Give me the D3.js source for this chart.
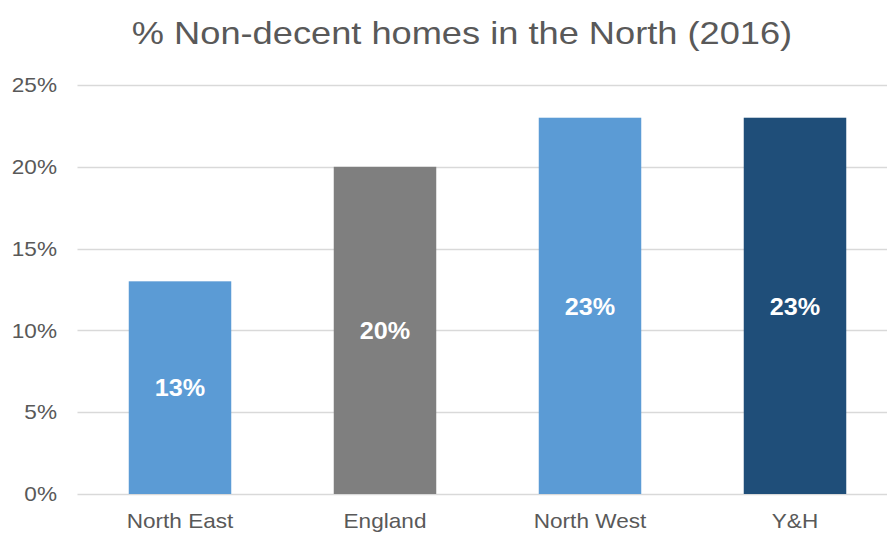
<!DOCTYPE html>
<html>
<head>
<meta charset="utf-8">
<script src="https://cdn.jsdelivr.net/npm/d3@7"></script>
<style>
  html, body { margin: 0; padding: 0; background: #fff; }
  svg { display: block; font-family: "Liberation Sans", Arial, sans-serif; }
</style>
</head>
<body>
<svg id="chart" width="888" height="534"></svg>
<script>
// Share of non-decent homes, 2016
const categories = ["North East", "England", "North West", "Y&H"];
const values = [13, 20, 23, 23];
const barColors = ["#5B9BD5", "#7F7F7F", "#5B9BD5", "#1F4E79"];
const yTicks = [0, 5, 10, 15, 20, 25];
const titleText = "% Non-decent homes in the North (2016)";

const width = 888, height = 534;
const plot = { left: 77.5, right: 897.5, top: 85, bottom: 494, gridEnd: 887 };
const stretch = 1.13; // horizontal widening applied to regular text

const svg = d3.select("#chart");

const x = d3.scaleBand()
  .domain(categories)
  .range([plot.left, plot.right])
  .paddingInner(0.5)
  .paddingOuter(0.25);

const y = d3.scaleLinear()
  .domain([0, 25])
  .range([plot.bottom, plot.top]);

// horizontal gridlines
svg.append("g")
  .selectAll("line")
  .data(yTicks)
  .join("line")
  .attr("x1", plot.left)
  .attr("x2", plot.gridEnd)
  .attr("y1", d => Math.round(y(d)) + 0.5)
  .attr("y2", d => Math.round(y(d)) + 0.5)
  .attr("stroke", "#D9D9D9")
  .attr("stroke-width", 1.3);

// y axis labels
svg.append("g")
  .selectAll("text")
  .data(yTicks)
  .join("text")
  .attr("transform", d => `translate(57,${y(d)}) scale(${stretch},1)`)
  .attr("text-anchor", "end")
  .attr("dy", "0.36em")
  .attr("font-size", 20)
  .attr("fill", "#595959")
  .text(d => d + "%");

// bars
svg.append("g")
  .selectAll("rect")
  .data(values)
  .join("rect")
  .attr("x", (d, i) => x(categories[i]))
  .attr("width", x.bandwidth())
  .attr("y", d => y(d))
  .attr("height", d => y(0) - y(d))
  .attr("fill", (d, i) => barColors[i]);

// value labels inside bars
svg.append("g")
  .selectAll("text")
  .data(values)
  .join("text")
  .attr("transform", (d, i) =>
    `translate(${x(categories[i]) + x.bandwidth() / 2},${(y(d) + y(0)) / 2}) scale(1.05,1)`)
  .attr("text-anchor", "middle")
  .attr("dy", "0.36em")
  .attr("font-size", 24)
  .attr("font-weight", "bold")
  .attr("fill", "#ffffff")
  .text(d => d + "%");

// category labels
svg.append("g")
  .selectAll("text")
  .data(categories)
  .join("text")
  .attr("transform", d => `translate(${x(d) + x.bandwidth() / 2},528) scale(${stretch},1)`)
  .attr("text-anchor", "middle")
  .attr("font-size", 20)
  .attr("fill", "#595959")
  .text(d => d);

// title
svg.append("text")
  .attr("transform", `translate(462,44) scale(1.15,1)`)
  .attr("text-anchor", "middle")
  .attr("font-size", 31.5)
  .attr("fill", "#595959")
  .text(titleText);
</script>
</body>
</html>
